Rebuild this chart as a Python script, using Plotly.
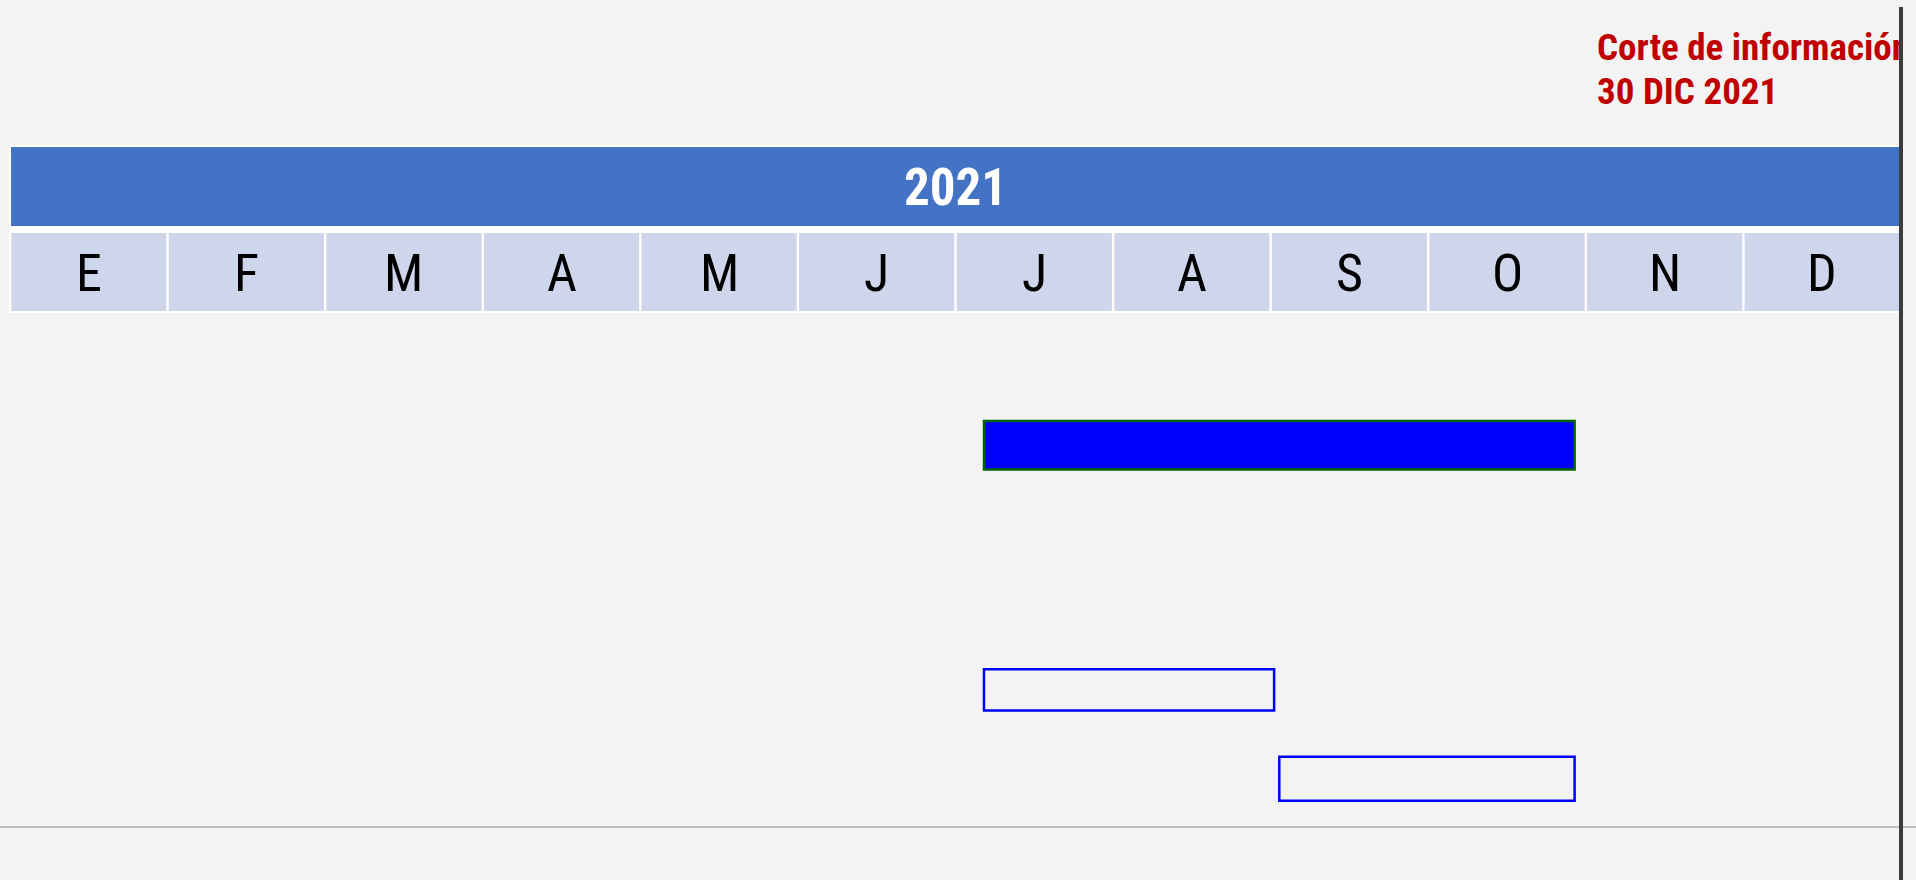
import pandas as pd
import plotly.graph_objects as go

# ---------------- data ----------------
year_label = "2021"
month_labels = ["E", "F", "M", "A", "M", "J", "J", "A", "S", "O", "N", "D"]
axis_start = "2021-01-01"
axis_end = "2022-01-01"

tasks = ["Actividad", "Fase 1", "Fase 2"]
task_rows = [5.06, 7.84, 8.85]
task_thickness = [0.55, 0.47, 0.50]
task_start = ["2021-07-08", "2021-07-08", "2021-09-03"]
task_end = ["2021-10-30", "2021-09-02", "2021-10-30"]
task_fill = ["#0000FF", "rgba(0,0,0,0)", "rgba(0,0,0,0)"]
task_line = ["#006400", "#0000FF", "#0000FF"]

cutoff_title = "Corte de información"
cutoff_date_label = "30 DIC 2021"

# ---------------- figure ----------------
W, H = 1916, 880
ML, MR = 10, 15
PW = W - ML - MR
BG = "#F2F3F2"
NARROW = "Roboto Condensed, Liberation Sans Narrow, Arial Narrow, Liberation Sans, sans-serif"


def px_x(px):
    return (px - ML) / PW


def px_y(py):
    return 1 - py / H


dur_ms = [
    (pd.Timestamp(e) - pd.Timestamp(s)).total_seconds() * 1000
    for s, e in zip(task_start, task_end)
]

fig = go.Figure()
fig.add_trace(
    go.Bar(
        y=task_rows,
        x=dur_ms,
        base=task_start,
        orientation="h",
        width=task_thickness,
        marker=dict(color=task_fill, line=dict(color=task_line, width=2.5)),
        text=tasks,
        textposition="none",
        hoverinfo="text",
        showlegend=False,
    )
)

shapes = []
annotations = []

# header table (white frame)
shapes.append(dict(type="rect", xref="paper", yref="paper",
                   x0=px_x(9), x1=1.0, y0=px_y(313), y1=px_y(145),
                   fillcolor="white", line=dict(width=0), layer="below"))
# year band
shapes.append(dict(type="rect", xref="paper", yref="paper",
                   x0=px_x(11), x1=1.0, y0=px_y(226), y1=px_y(147),
                   fillcolor="#4472C4", line=dict(width=0), layer="below"))
annotations.append(dict(text=f"<b>{year_label}</b>", xref="paper", yref="paper",
                        x=0.5, y=px_y(187), xanchor="center", yanchor="middle",
                        showarrow=False, font=dict(family=NARROW, size=51, color="white")))
# month cells
n = len(month_labels)
gap = 1.2 / PW
for i, m in enumerate(month_labels):
    shapes.append(dict(type="rect", xref="paper", yref="paper",
                       x0=i / n + gap, x1=(i + 1) / n - gap,
                       y0=px_y(311), y1=px_y(233),
                       fillcolor="#CFD5EA", line=dict(width=0), layer="below"))
    annotations.append(dict(text=m, xref="paper", yref="paper",
                            x=(i + 0.5) / n, y=px_y(273), xanchor="center", yanchor="middle",
                            showarrow=False, font=dict(family=NARROW, size=52, color="black")))

# bottom gray rule
shapes.append(dict(type="line", xref="paper", yref="paper",
                   x0=px_x(0), x1=px_x(W), y0=px_y(827), y1=px_y(827),
                   line=dict(color="#BDBDBD", width=2), layer="below"))
# cutoff line
shapes.append(dict(type="line", xref="paper", yref="paper",
                   x0=1.0, x1=1.0, y0=0, y1=px_y(7),
                   line=dict(color="#3C3C3C", width=4)))

# cutoff labels
annotations.append(dict(text=f"<b>{cutoff_title}</b>", xref="paper", yref="paper",
                        x=px_x(1595), y=px_y(47), xanchor="left", yanchor="middle",
                        width=302, align="left", showarrow=False,
                        font=dict(family=NARROW, size=37, color="#C00000")))
annotations.append(dict(text=f"<b>{cutoff_date_label}</b>", xref="paper", yref="paper",
                        x=px_x(1595), y=px_y(92), xanchor="left", yanchor="middle",
                        align="left", showarrow=False,
                        font=dict(family=NARROW, size=37, color="#C00000")))

fig.update_layout(
    width=W, height=H,
    margin=dict(l=ML, r=MR, t=0, b=0),
    paper_bgcolor=BG, plot_bgcolor=BG,
    xaxis=dict(type="date", range=[axis_start, axis_end], showgrid=False,
               zeroline=False, showticklabels=False, showline=False),
    yaxis=dict(range=[10, 0], showgrid=False, zeroline=False,
               showticklabels=False, showline=False),
    shapes=shapes, annotations=annotations,
    showlegend=False,
)

fig.write_html("out.html", config={"displayModeBar": False},
               post_script="document.body.style.margin='0px';")
